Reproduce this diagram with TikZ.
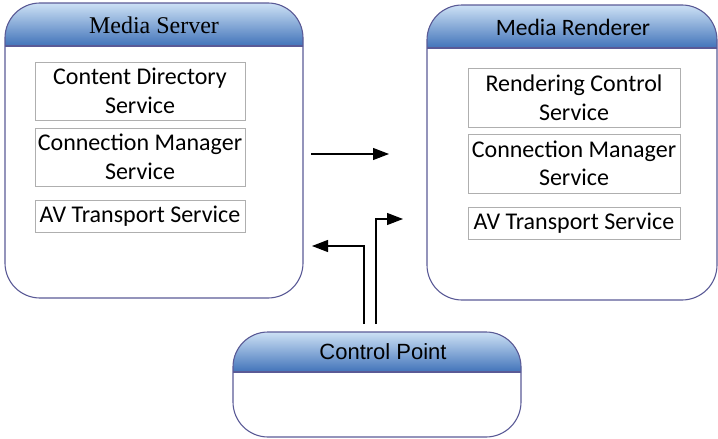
\documentclass[tikz,border=0pt]{standalone}
\usepackage{fontspec}
\setmainfont{Liberation Serif}
\newfontfamily\calfont{Carlito}
\newfontfamily\arialfont{Liberation Sans}
\usetikzlibrary{arrows.meta}
\definecolor{bordc}{RGB}{90,90,150}
\definecolor{hdtop}{RGB}{205,225,245}
\definecolor{hdbot}{RGB}{65,115,185}
\definecolor{innc}{RGB}{175,175,175}
\tikzset{
  bigbox/.style={draw=bordc, line width=1.1pt, rounded corners=35pt},
  hdr/.style={top color=hdtop, bottom color=hdbot},
  svc/.style={draw=innc, line width=1pt, align=center, inner sep=0pt, font=\calfont\fontsize{24}{28.5}\selectfont},
  arr/.style={line width=1.2pt, -{Triangle[length=16pt,width=12pt]}},
}
\begin{document}
\begin{tikzpicture}[x=1pt,y=-1pt]
\useasboundingbox (0,0) rectangle (718,439);
% Media Server
\begin{scope}
\clip[rounded corners=35pt] (5,3) rectangle (303,298);
\fill[hdr] (5,3) rectangle (303,46);
\end{scope}
\draw[bigbox] (5,3) rectangle (303,298);
\draw[bordc, line width=1.1pt] (5,46) -- (303,46);
\node[font=\fontsize{24}{28}\selectfont] (mstitle) at (154,25) {Media Server};
\node[svc, minimum width=210pt, minimum height=58pt] (cds) at (140,91) {Content Directory\\Service};
\node[svc, minimum width=210pt, minimum height=58pt] (cms1) at (140,157) {Connection Manager\\Service};
\node[svc, minimum width=210pt, minimum height=32pt] (avt1) at (140,216) {AV Transport Service};
% Media Renderer
\begin{scope}
\clip[rounded corners=35pt] (427,5) rectangle (717,300);
\fill[hdr] (427,5) rectangle (717,48);
\end{scope}
\draw[bigbox] (427,5) rectangle (717,300);
\draw[bordc, line width=1.1pt] (427,48) -- (717,48);
\node[font=\calfont\fontsize{23.5}{28}\selectfont] (mrtitle) at (573,27) {Media Renderer};
\node[svc, minimum width=212pt, minimum height=59pt] (rcs) at (574,97.5) {Rendering Control\\Service};
\node[svc, minimum width=212pt, minimum height=59pt] (cms2) at (574,163.5) {Connection Manager\\Service};
\node[svc, minimum width=212pt, minimum height=32pt] (avt2) at (574,223) {AV Transport Service};
% Control Point
\begin{scope}
\clip[rounded corners=35pt] (233,332) rectangle (521,437);
\fill[hdr] (233,332) rectangle (521,372);
\end{scope}
\draw[bigbox] (233,332) rectangle (521,437);
\draw[bordc, line width=1.1pt] (233,372) -- (521,372);
\node[font=\arialfont\fontsize{22}{26}\selectfont] (cptitle) at (383,352) {Control Point};
% arrows
\coordinate (h1) at (311,154);
\coordinate (h2) at (389,154);
\coordinate (u1) at (376,324);
\coordinate (u2) at (403,219);
\coordinate (v1) at (364,324);
\coordinate (v2) at (312,246);
\draw[arr] (h1) -- (h2);
\draw[arr] (u1) |- (u2);
\draw[arr] (v1) |- (v2);
\end{tikzpicture}
\end{document}
